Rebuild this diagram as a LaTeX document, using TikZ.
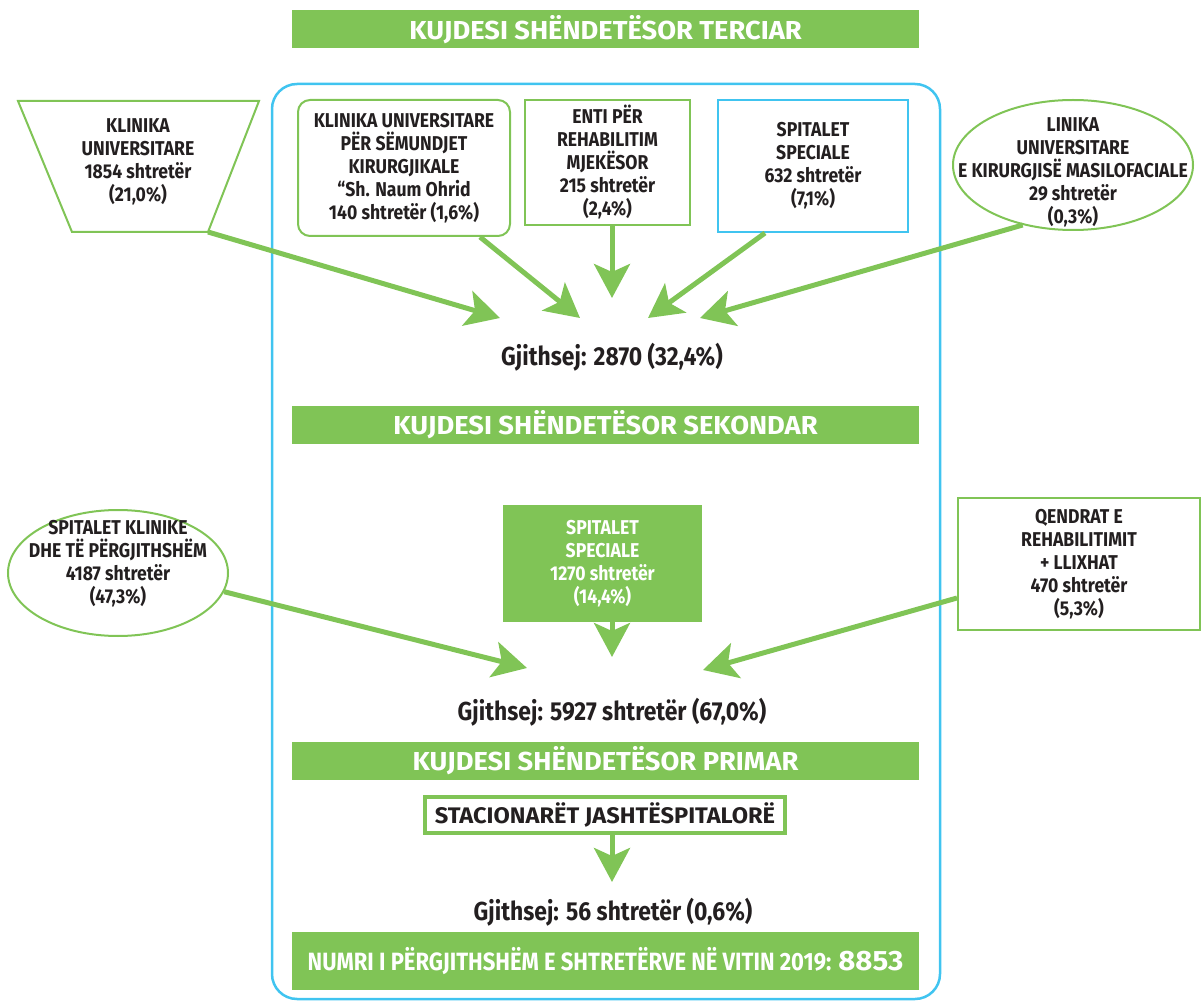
\documentclass[tikz,border=0pt]{standalone}
\usepackage{fontspec}
\setmainfont{Fira Sans}[FakeStretch=0.88]
\newfontfamily\gjere{Fira Sans}[FakeStretch=1.05]
\usetikzlibrary{arrows.meta,shapes.geometric,positioning}

\definecolor{gjelber}{RGB}{128,196,86}
\definecolor{kalter}{RGB}{64,196,240}
\definecolor{teksti}{RGB}{35,31,32}

\tikzset{
  shigjeta/.style={draw=gjelber, line width=5pt, -{Stealth[length=34pt,width=36pt,inset=8pt,fill=gjelber]}},
  teksti/.style={text=teksti, align=center, inner sep=0pt, font=\fontsize{20}{23}\selectfont\bfseries},
  kutia/.style={teksti, draw=gjelber, line width=2pt},
  elipsa/.style={draw=gjelber, line width=2pt, ellipse, inner sep=0pt},
  shirit/.style={fill=gjelber, text=white, minimum width=627pt, minimum height=38pt, inner sep=0pt, font=\gjere\fontsize{26}{28}\selectfont\bfseries},
  shuma/.style={text=teksti, inner sep=0pt, font=\fontsize{26}{30}\selectfont\bfseries},
}

\begin{document}
\begin{tikzpicture}[x=1pt,y=-1pt]
\useasboundingbox (0,0) rectangle (1203,1003);

%korniza
\draw [kalter, line width=2.5pt, rounded corners=25pt] (272,84) rectangle (940,999);

%niveli terciar
\node[shirit] (terciar) at (605.5,29.5) {KUJDESI SHËNDETËSOR TERCIAR};
\draw [gjelber, line width=2pt] (18,101) -- (259,101) -- (208,232) -- (72,232) -- cycle;
\node[teksti] (klinika) at (138,162) {KLINIKA\\UNIVERSITARE\\1854 shtretër\\(21,0\%)};
\coordinate (klinika-kend) at (208,232);
\node[kutia, rounded corners=12pt, minimum width=212pt, minimum height=136pt] (kirurgji) at (404,168) {KLINIKA UNIVERSITARE\\PËR SËMUNDJET\\KIRURGJIKALE\\“Sh. Naum Ohrid\\140 shtretër (1,6\%)};
\node[kutia, minimum width=165pt, minimum height=125pt] (enti) at (607.5,162.5) {ENTI PËR\\REHABILITIM\\MJEKËSOR\\215 shtretër\\(2,4\%)};
\node[kutia, draw=kalter, minimum width=190pt, minimum height=132pt] (speciale) at (813,166) {SPITALET\\SPECIALE\\632 shtretër\\(7,1\%)};
\node[elipsa, minimum width=240pt, minimum height=130pt, label={[teksti, yshift=-7pt]center:{LINIKA\\UNIVERSITARE\\E KIRURGJISË MASILOFACIALE\\29 shtretër\\(0,3\%)}}] (masilo) at (1073,165) {};

\node[shuma] (shuma1) at (612,357) {Gjithsej: 2870 (32,4\%)};
\coordinate (t1) at (500,318);
\coordinate (t2) at (580,318);
\coordinate (t3) at (612,298);
\coordinate (t4) at (648,318);
\coordinate (t5) at (700,318);
\draw[shigjeta] (klinika-kend) -- (t1);
\draw[shigjeta] ([xshift=76pt]kirurgji.south) -- (t2);
\draw[shigjeta] ([xshift=4.5pt]enti.south) -- (t3);
\draw[shigjeta] ([xshift=-48pt]speciale.south) -- (t4);
\draw[shigjeta] (masilo.-130) -- (t5);

%niveli sekondar
\node[shirit] (sekondar) at (605.5,425) {KUJDESI SHËNDETËSOR SEKONDAR};
\node[elipsa, minimum width=220pt, minimum height=126pt, label={[teksti, yshift=9pt]center:{SPITALET KLINIKE\\DHE TË PËRGJITHSHËM\\4187 shtretër\\(47,3\%)}}] (klinike) at (118,573) {};
\node[teksti, text=white, fill=gjelber, minimum width=199pt, minimum height=117pt] (speciale2) at (602.5,563.5) {SPITALET\\SPECIALE\\1270 shtretër\\(14,4\%)};
\node[kutia, minimum width=242pt, minimum height=132pt] (qendrat) at (1079,564) {QENDRAT E\\REHABILITIMIT\\+ LLIXHAT\\470 shtretër\\(5,3\%)};

\node[shuma] (shuma2) at (612,712) {Gjithsej: 5927 shtretër (67,0\%)};
\coordinate (u1) at (527,668);
\coordinate (u2) at (612,657);
\coordinate (u3) at (703,670);
\draw[shigjeta] (klinike.-10) -- (u1);
\draw[shigjeta] ([xshift=9.5pt]speciale2.south) -- (u2);
\draw[shigjeta] ([yshift=-34pt]qendrat.west) -- (u3);

%niveli primar
\node[shirit] (primar) at (605.5,761) {KUJDESI SHËNDETËSOR PRIMAR};
\node[kutia, line width=4pt, minimum width=360pt, minimum height=36pt, font=\gjere\fontsize{22.5}{24}\selectfont\bfseries] (stacionar) at (605,815) {STACIONARËT JASHTËSPITALORË};
\node[shuma] (shuma3) at (613,912) {Gjithsej: 56 shtretër (0,6\%)};
\coordinate (v1) at (612,882);
\draw[shigjeta] ([xshift=7pt]stacionar.south) -- (v1);

%totali
\node[shirit, minimum height=58pt, font=\fontsize{25}{28}\selectfont\bfseries] (totali) at (605.5,961) {NUMRI I PËRGJITHSHËM E SHTRETËRVE NË VITIN 2019: {\gjere\fontsize{28}{30}\selectfont 8853}};

\end{tikzpicture}
\end{document}
